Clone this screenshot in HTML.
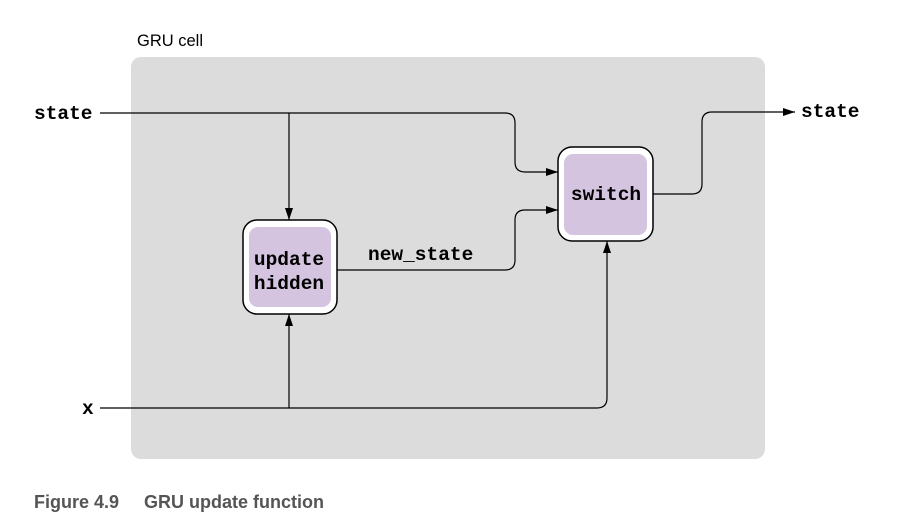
<!DOCTYPE html>
<html><head><style>
body{margin:0;background:#fff;}
</style></head><body>
<svg width="922" height="527" xmlns="http://www.w3.org/2000/svg">
<defs><marker id="a" markerWidth="12" markerHeight="8" refX="12" refY="4" orient="auto" markerUnits="userSpaceOnUse"><path d="M0,0 L12,4 L0,8 z" fill="#000"/></marker></defs>
<rect x="131" y="57" width="634" height="402" rx="10" fill="#dcdcdc"/>
<text x="137" y="46" font-family="Liberation Sans, sans-serif" font-size="16.5">GRU cell</text>
<g fill="none" stroke="#000" stroke-width="1.2">
<path d="M100,113 H505 Q515,113 515,123 V162 Q515,172 525,172 H558" marker-end="url(#a)"/>
<path d="M289,113 V220" marker-end="url(#a)"/>
<path d="M337,270 H505 Q515,270 515,260 V220 Q515,210 525,210 H558" marker-end="url(#a)"/>
<path d="M100,408 H597 Q607,408 607,398 V241" marker-end="url(#a)"/>
<path d="M289,408 V314" marker-end="url(#a)"/>
<path d="M653,194 H692 Q702,194 702,184 V122 Q702,112 712,112 H795" marker-end="url(#a)"/>
</g>
<rect x="243" y="220" width="94" height="94" rx="14" fill="#fff" stroke="#000" stroke-width="1.5"/>
<rect x="249" y="227" width="82" height="80" rx="9" fill="#d5c4df"/>
<rect x="558" y="147" width="95" height="94" rx="14" fill="#fff" stroke="#000" stroke-width="1.5"/>
<rect x="564" y="154" width="83" height="81" rx="9" fill="#d5c4df"/>
<g font-family="Liberation Mono, monospace" font-weight="bold" font-size="19.5" fill="#000">
<text x="289" y="265" text-anchor="middle">update</text>
<text x="289" y="289" text-anchor="middle">hidden</text>
<text x="606" y="200" text-anchor="middle">switch</text>
<text x="368" y="260">new_state</text>
<text x="34" y="119">state</text>
<text x="801" y="117">state</text>
<text x="82" y="414">x</text>
</g>
<text x="34" y="508" font-family="Liberation Sans, sans-serif" font-weight="bold" font-size="18" fill="#555">Figure 4.9</text>
<text x="144" y="508" font-family="Liberation Sans, sans-serif" font-weight="bold" font-size="18" fill="#555">GRU update function</text>
</svg>
</body></html>
